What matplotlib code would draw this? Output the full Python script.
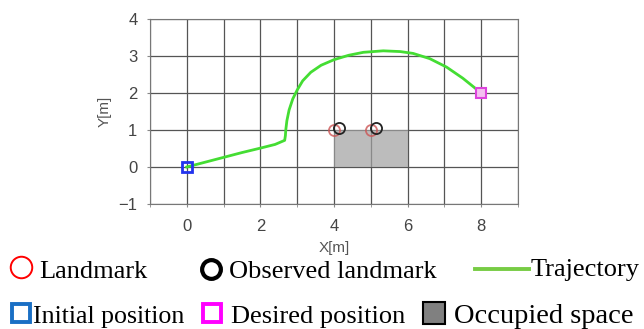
import numpy as np
import matplotlib.pyplot as plt
from matplotlib.lines import Line2D
from matplotlib.patches import Rectangle

# trajectoire
traj_x = [0.0, 0.5, 1.0, 1.5, 2.0, 2.4, 2.66, 2.68, 2.69, 2.72, 2.78, 2.88, 3.0, 3.15, 3.37, 3.65, 4.0, 4.4, 4.8, 5.34, 5.8, 6.15, 6.6, 7.06, 7.5, 7.95, 8.0]
traj_y = [0.0, 0.13, 0.26, 0.39, 0.51, 0.61, 0.72, 0.85, 1.0, 1.25, 1.54, 1.84, 2.08, 2.33, 2.56, 2.75, 2.9, 3.02, 3.1, 3.14, 3.12, 3.07, 2.93, 2.7, 2.4, 2.04, 2.0]

# landmarks
lm_x = [4.0, 5.0]
lm_y = [1.0, 1.0]
obs_x = [4.15, 5.15]
obs_y = [1.05, 1.05]

start = (0, 0)
goal = (8, 2)
occ = (4, 0, 2, 1)  # x, y, largeur, hauteur

xticks = [0, 2, 4, 6, 8]
yticks = [-1, 0, 1, 2, 3, 4]

plt.rcParams['font.family'] = ['Liberation Sans', 'DejaVu Sans']
fig = plt.figure(figsize=(6.44, 3.29), dpi=100)
ax = fig.add_axes([0.2329, 0.38, 0.5714, 0.5622])

ax.add_patch(Rectangle(occ[:2], occ[2], occ[3], facecolor='#a0a0a0', alpha=0.7, edgecolor='none', zorder=1))
ax.plot(traj_x, traj_y, color='#44dd33', lw=2, zorder=3)
ax.plot(lm_x, lm_y, 'o', ms=8, mfc='none', mec='#cc5555', mew=1.3, alpha=0.8, zorder=4)
ax.plot(obs_x, obs_y, 'o', ms=8, mfc='none', mec='#222222', mew=1.3, zorder=5)
ax.plot(*start, 's', ms=7, mfc='none', mec='#2233ee', mew=2, zorder=5)
ax.plot(*goal, 's', ms=7, mfc='#f4c0f0', mec='#dd44dd', mew=1.5, zorder=5)

ax.set_xlim(-1, 9)
ax.set_ylim(-1, 4)
ax.set_xticks(np.arange(-1, 10, 1), minor=True)
ax.set_xticks(xticks)
ax.set_yticks(yticks)
ax.grid(True, which='both', color='#555555', lw=0.9, zorder=0)
ax.set_axisbelow(True)
ax.tick_params(which='both', length=2, color='#888888', labelsize=12, labelcolor='#444444', pad=7)
ax.tick_params(axis='x', pad=9)
for s in ax.spines.values():
    s.set_color('#777777')
ax.set_xlabel('X[m]', fontsize=11, color='#555555', labelpad=5)
ax.set_ylabel('Y[m]', fontsize=11, color='#555555', labelpad=5)

# legende manuelle
serif = 'Liberation Serif'
fs = 19
H = 329
W = 644
def item(x, y, **kw):
    fig.add_artist(Line2D([x / W], [1 - y / H], transform=fig.transFigure, ls='none', **kw))
def label(x, y, s, size=fs):
    fig.text(x / W, 1 - y / H, s, family=serif, fontsize=size, va='baseline')

item(21, 267, marker='o', ms=15.5, mfc='none', mec='red', mew=1.4)
label(39, 278, 'Landmark')
item(211, 269, marker='o', ms=13.5, mfc='none', mec='black', mew=3)
label(229, 278, 'Observed landmark')
fig.add_artist(Line2D([475 / W, 529 / W], [1 - 269 / H] * 2, transform=fig.transFigure, color='#77cc44', lw=2.8))
label(531, 276, 'Trajectory')

item(21, 313, marker='s', ms=13.5, mfc='none', mec='#1a6fc4', mew=2.8)
label(33, 323, 'Initial position', 18.6)
item(212, 313, marker='s', ms=13.5, mfc='none', mec='#ff00ff', mew=2.8)
label(231, 323, 'Desired position')
item(434, 313, marker='s', ms=16, mfc='#808080', mec='black', mew=1.5)
label(454, 323, 'Occupied space', 20.5)

fig.savefig('out.png', dpi=100)
